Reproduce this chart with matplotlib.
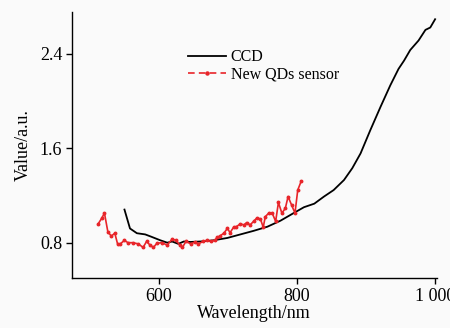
import matplotlib
matplotlib.use("Agg")
import matplotlib.pyplot as plt
from matplotlib.lines import Line2D
from matplotlib.ticker import FixedLocator, FixedFormatter

plt.rcParams['font.family'] = ['Liberation Serif', 'DejaVu Serif']

# CCD response
ccd_wl = [550, 558, 568, 580, 589, 602, 612, 619, 628, 636, 645, 660, 679, 699, 718,
          737, 757, 776, 795, 810, 825, 839, 853, 868, 880, 892, 906, 921, 935, 947,
          955, 964, 976, 986, 993, 1000]
ccd_val = [1.08, 0.92, 0.88, 0.87, 0.85, 0.82, 0.80, 0.81, 0.79, 0.81, 0.806, 0.81, 0.82,
           0.84, 0.87, 0.90, 0.935, 0.986, 1.05, 1.10, 1.13, 1.19, 1.245, 1.33, 1.43,
           1.555, 1.75, 1.95, 2.13, 2.27, 2.34, 2.43, 2.51, 2.60, 2.62, 2.69]

# New QDs sensor response
qd_wl = [512, 517, 521, 526, 531, 536, 540, 544, 550, 555, 562, 570, 577, 582, 587, 592,
         597, 604, 612, 619, 625, 630, 634, 639, 646, 652, 657, 664, 669, 675, 681, 684,
         688, 694, 699, 703, 708, 712, 718, 723, 727, 732, 737, 742, 747, 751, 754, 759,
         764, 769, 773, 778, 783, 787, 792, 797, 801, 806]
qd_val = [0.96, 1.006, 1.05, 0.89, 0.856, 0.88, 0.79, 0.79, 0.82, 0.80, 0.80, 0.79, 0.76,
          0.81, 0.78, 0.76, 0.795, 0.80, 0.78, 0.83, 0.82, 0.78, 0.76, 0.81, 0.79, 0.805,
          0.79, 0.81, 0.82, 0.81, 0.82, 0.845, 0.856, 0.88, 0.92, 0.885, 0.93, 0.935, 0.96,
          0.95, 0.97, 0.95, 0.98, 1.01, 1.0, 0.93, 1.02, 1.05, 1.05, 0.98, 1.14, 1.05, 1.09,
          1.19, 1.12, 1.05, 1.245, 1.32]

x_ticks = [600, 800, 1000]
x_labels = ['600', '800', '1 000']
y_ticks = [0.8, 1.6, 2.4]
y_labels = ['0.8', '1.6', '2.4']

red = '#e8252a'
bg = '#fafafa'
fig = plt.figure(figsize=(4.5, 3.28), dpi=100, facecolor=bg)
ax = fig.add_axes([0.16, 0.152, 0.81, 0.811], facecolor=bg)

ax.plot(ccd_wl, ccd_val, color='black', lw=1.3)
ax.plot(qd_wl, qd_val, color=red, lw=1.2, marker='o', ms=1.8)

ax.set_xlim(474, 1002)
ax.set_ylim(0.5, 2.75)
ax.xaxis.set_major_locator(FixedLocator(x_ticks))
ax.xaxis.set_major_formatter(FixedFormatter(x_labels))
ax.yaxis.set_major_locator(FixedLocator(y_ticks))
ax.yaxis.set_major_formatter(FixedFormatter(y_labels))

for s in ['top', 'right']:
    ax.spines[s].set_visible(False)
for s in ['left', 'bottom']:
    ax.spines[s].set_linewidth(1.0)
ax.tick_params(direction='out', length=4, width=1, labelsize=13, pad=3)

ax.set_xlabel('Wavelength/nm', fontsize=13, labelpad=0)
ax.set_ylabel('Value/a.u.', fontsize=13, labelpad=6)

# legend handles
h_ccd = Line2D([], [], color='black', lw=1.3)
h_qd = Line2D([], [], color=red, lw=1.2, ls=(0, (4, 2.5)), marker='o', ms=2.2)
ax.legend([h_ccd, h_qd], ['CCD', 'New QDs sensor'], loc='upper left',
          bbox_to_anchor=(0.295, 0.89), frameon=False, fontsize=11.5,
          handlelength=2.4, handletextpad=0.3, labelspacing=0.1,
          borderpad=0, numpoints=1)

fig.savefig('out.png', dpi=100, facecolor=bg)
